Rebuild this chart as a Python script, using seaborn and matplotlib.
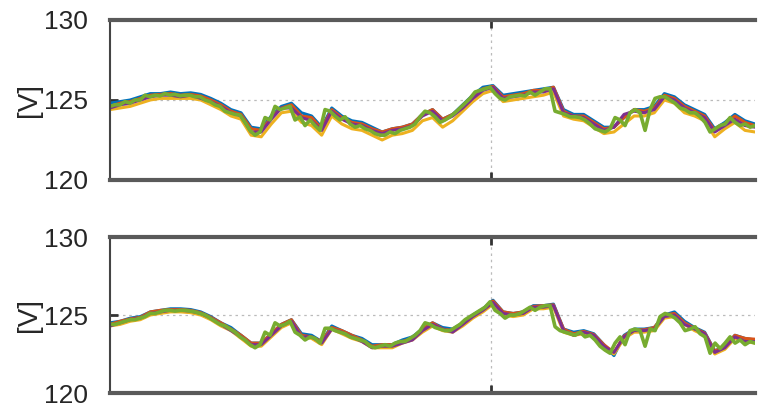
import numpy as np
import pandas as pd
import matplotlib
matplotlib.use('Agg')
import matplotlib.pyplot as plt
import seaborn as sns

# values, [V]
top_green = [124.6, 124.7, 124.7, 124.9, 124.8, 125.0, 125.0, 125.3, 125.2, 125.3,
             125.25, 125.4, 125.3, 125.35, 125.25, 125.3, 125.3, 125.2, 125.2, 125.0,
             124.9, 124.7, 124.6, 124.3, 124.2, 124.1, 124.05, 123.6, 123.1, 122.8,
             123.0, 123.9, 123.75, 124.6, 124.4, 124.5, 124.6, 123.75, 123.95, 123.4,
             123.75, 123.4, 123.1, 124.4, 124.3, 124.0, 123.75, 123.95, 123.5, 123.3,
             123.4, 123.2, 123.1, 122.9, 122.8, 122.8, 123.0, 122.9, 123.1, 123.2,
             123.3, 123.5, 123.95, 124.3, 124.2, 123.95, 123.6, 123.75, 123.95, 124.2,
             124.5, 124.8, 125.1, 125.5, 125.6, 125.7, 125.8, 125.4, 125.1, 125.0,
             125.2, 125.25, 125.3, 125.25, 125.5, 125.3, 125.5, 125.7, 125.7, 124.3,
             124.2, 124.1, 123.95, 123.95, 123.9, 123.75, 123.5, 123.2, 123.1, 123.0,
             123.2, 123.9, 123.75, 123.4, 124.2, 124.4, 124.2, 123.1, 124.4, 125.1,
             125.2, 125.2, 125.0, 124.8, 124.5, 124.4, 124.2, 124.2, 123.95, 123.6,
             123.0, 123.2, 123.4, 123.5, 123.9, 123.6, 123.4, 123.5, 123.3, 123.4]
top_blue = [124.8, 124.9, 125.0, 125.2, 125.4, 125.4, 125.5, 125.4, 125.45, 125.35,
            125.1, 124.8, 124.4, 124.2, 123.3, 123.2, 124.0, 124.6, 124.8, 124.2,
            124.0, 123.3, 124.5, 124.0, 123.7, 123.6, 123.3, 123.0, 123.2, 123.3,
            123.5, 124.1, 124.4, 123.8, 124.1, 124.7, 125.3, 125.8, 125.9, 125.3,
            125.4, 125.5, 125.6, 125.7, 125.8, 124.4, 124.1, 124.1, 123.7, 123.3,
            123.3, 123.9, 124.4, 124.4, 124.6, 125.4, 125.2, 124.7, 124.4, 124.1,
            123.2, 123.6, 124.1, 123.7, 123.5]
top_red = [124.6, 124.8, 124.9, 125.1, 125.3, 125.35, 125.4, 125.3, 125.35, 125.25,
           125.0, 124.7, 124.3, 124.1, 123.2, 123.1, 123.9, 124.5, 124.7, 124.0,
           123.9, 123.2, 124.4, 123.9, 123.6, 123.5, 123.2, 123.0, 123.2, 123.3,
           123.5, 124.1, 124.4, 123.8, 124.1, 124.6, 125.2, 125.7, 125.85, 125.2,
           125.3, 125.4, 125.6, 125.6, 125.8, 124.3, 124.0, 124.0, 123.6, 123.2,
           123.3, 123.9, 124.4, 124.3, 124.5, 125.3, 125.1, 124.6, 124.3, 124.0,
           123.1, 123.5, 124.0, 123.6, 123.4]
top_yellow = [124.4, 124.5, 124.6, 124.8, 125.0, 125.1, 125.1, 125.1, 125.1, 125.0,
              124.7, 124.4, 124.0, 123.8, 122.8, 122.7, 123.5, 124.2, 124.3, 123.6,
              123.4, 122.8, 124.0, 123.5, 123.2, 123.1, 122.8, 122.5, 122.8, 122.9,
              123.1, 123.7, 123.9, 123.3, 123.7, 124.3, 124.9, 125.4, 125.6, 124.9,
              125.0, 125.1, 125.2, 125.3, 125.5, 124.0, 123.8, 123.7, 123.3, 122.9,
              123.0, 123.5, 124.0, 124.0, 124.2, 125.0, 124.8, 124.2, 124.0, 123.7,
              122.7, 123.2, 123.6, 123.1, 123.0]
top_purple = [124.5, 124.7, 124.8, 125.0, 125.2, 125.3, 125.3, 125.2, 125.3, 125.1,
              124.9, 124.6, 124.2, 124.0, 123.0, 123.0, 123.8, 124.5, 124.5, 123.9,
              123.7, 123.1, 124.3, 123.8, 123.5, 123.4, 123.1, 122.9, 123.1, 123.2,
              123.4, 124.0, 124.3, 123.7, 124.0, 124.5, 125.1, 125.6, 125.8, 125.1,
              125.2, 125.3, 125.5, 125.5, 125.7, 124.2, 124.0, 123.9, 123.5, 123.1,
              123.3, 124.1, 124.3, 124.2, 124.4, 125.2, 125.0, 124.5, 124.2, 123.9,
              123.0, 123.4, 123.8, 123.4, 123.3]

bot_green = [124.4, 124.4, 124.5, 124.6, 124.7, 124.7, 124.8, 124.9, 125.1, 125.1,
             125.2, 125.3, 125.3, 125.25, 125.3, 125.3, 125.25, 125.2, 125.1, 125.0,
             124.8, 124.6, 124.4, 124.3, 124.1, 123.9, 123.6, 123.4, 123.1, 122.9,
             123.1, 123.9, 123.7, 124.5, 124.3, 124.4, 124.6, 123.9, 123.7, 123.4,
             123.6, 123.5, 123.2, 124.15, 124.15, 124.0, 123.9, 123.8, 123.6, 123.5,
             123.4, 123.3, 123.0, 122.9, 123.0, 123.1, 123.0, 123.2, 123.3, 123.3,
             123.5, 123.7, 124.0, 124.5, 124.4, 124.2, 124.1, 124.0, 124.0, 124.2,
             124.4, 124.7, 124.9, 125.1, 125.3, 125.5, 125.85, 125.3, 125.1, 124.8,
             125.0, 125.0, 125.1, 125.3, 125.5, 125.3, 125.5, 125.6, 125.6, 124.25,
             124.0, 123.9, 123.8, 123.7, 123.9, 123.6, 123.7, 123.4, 123.0, 122.75,
             122.55, 123.2, 123.6, 123.1, 124.0, 124.1, 124.0, 123.0, 124.1, 124.0,
             124.9, 125.1, 125.0, 124.8, 124.5, 124.0, 124.1, 124.25, 123.8, 123.6,
             122.55, 123.2, 122.85, 123.2, 123.6, 123.2, 123.4, 123.1, 123.3, 123.2]
bot_blue = [124.5, 124.6, 124.8, 124.9, 125.2, 125.3, 125.4, 125.4, 125.35, 125.2,
            124.9, 124.5, 124.2, 123.7, 123.2, 123.2, 123.8, 124.4, 124.7, 123.8,
            123.7, 123.3, 124.3, 124.0, 123.7, 123.5, 123.1, 123.1, 123.1, 123.4,
            123.6, 124.1, 124.5, 124.2, 124.1, 124.5, 125.0, 125.4, 125.95, 125.2,
            125.1, 125.2, 125.6, 125.6, 125.7, 124.1, 123.9, 124.0, 123.8, 123.1,
            122.4, 123.7, 124.1, 124.1, 124.2, 125.0, 125.2, 124.6, 124.2, 123.9,
            122.7, 123.0, 123.7, 123.5, 123.4]
bot_red = [124.4, 124.6, 124.75, 124.85, 125.2, 125.3, 125.35, 125.35, 125.3, 125.15,
           124.85, 124.5, 124.1, 123.7, 123.2, 123.2, 123.8, 124.4, 124.7, 123.7,
           123.6, 123.3, 124.2, 124.0, 123.7, 123.4, 123.0, 123.1, 123.1, 123.3,
           123.5, 124.1, 124.5, 124.1, 124.0, 124.5, 124.95, 125.35, 125.9, 125.2,
           125.1, 125.2, 125.55, 125.6, 125.65, 124.1, 123.8, 123.95, 123.75, 123.1,
           122.6, 123.65, 124.05, 124.05, 124.2, 125.0, 125.1, 124.5, 124.15, 123.85,
           122.7, 122.95, 123.7, 123.5, 123.45]
bot_yellow = [124.3, 124.4, 124.6, 124.7, 125.0, 125.1, 125.2, 125.2, 125.15, 125.0,
              124.7, 124.3, 124.0, 123.5, 123.0, 123.0, 123.6, 124.2, 124.5, 123.6,
              123.5, 123.1, 124.1, 123.8, 123.5, 123.3, 122.9, 122.9, 122.9, 123.2,
              123.4, 123.9, 124.3, 124.0, 123.9, 124.3, 124.8, 125.2, 125.7, 125.0,
              124.9, 125.0, 125.4, 125.4, 125.5, 123.9, 123.7, 123.8, 123.6, 122.9,
              122.5, 123.5, 123.9, 123.9, 124.0, 124.8, 124.9, 124.4, 124.0, 123.7,
              122.5, 122.8, 123.5, 123.3, 123.2]
bot_purple = [124.3, 124.5, 124.7, 124.8, 125.1, 125.2, 125.3, 125.3, 125.25, 125.1,
              124.8, 124.4, 124.0, 123.6, 123.1, 123.1, 123.7, 124.3, 124.6, 123.6,
              123.6, 123.2, 124.1, 123.9, 123.6, 123.3, 122.9, 123.0, 123.0, 123.2,
              123.4, 124.0, 124.4, 124.1, 123.9, 124.4, 124.9, 125.3, 125.8, 125.1,
              125.0, 125.1, 125.5, 125.5, 125.6, 124.0, 123.7, 123.9, 123.7, 123.0,
              122.6, 123.6, 124.0, 124.0, 124.1, 124.9, 125.0, 124.4, 124.1, 123.8,
              122.6, 122.9, 123.6, 123.3, 123.3]

# matlab default colour order
colors = {'blue': '#0072BD', 'red': '#D95319', 'yellow': '#EDB120',
          'purple': '#7E2F8E', 'green': '#77AC30'}
marker_t = 0.5907  # where the dotted vertical line sits

panels = [
    [('blue', top_blue), ('red', top_red), ('yellow', top_yellow),
     ('purple', top_purple), ('green', top_green)],
    [('blue', bot_blue), ('red', bot_red), ('yellow', bot_yellow),
     ('purple', bot_purple), ('green', bot_green)],
]

sns.set_style('white')
plt.rcParams['font.family'] = ['Liberation Sans', 'DejaVu Sans']

fig = plt.figure(figsize=(7.62, 4.13), dpi=100)
boxes = [[0.1444, 0.5642, 0.8465, 0.3874], [0.1444, 0.0484, 0.8465, 0.3777]]

for box, series in zip(boxes, panels):
    ax = fig.add_axes(box)
    for name, vals in series:
        df = pd.DataFrame({'t': np.linspace(0, 1, len(vals)), 'v': vals})
        lw = 2.6 if name == 'green' else 2.2
        sns.lineplot(data=df, x='t', y='v', color=colors[name], lw=lw, ax=ax)
    ax.set_xlim(0, 1)
    ax.set_ylim(120, 130)
    ax.set_yticks([120, 125, 130])
    ax.set_xticks([marker_t])
    ax.set_xticklabels([])
    ax.set_xlabel('')
    ax.set_ylabel('[V]', fontsize=20)
    ax.yaxis.set_label_coords(-0.106, 0.5)
    ax.grid(True, linestyle=(0, (2, 3)), color='#bbbbbb', lw=0.9)
    ax.set_axisbelow(True)
    ax.tick_params(axis='y', direction='in', length=6, width=2, color='#333333',
                   labelsize=19, pad=16, left=True)
    ax.tick_params(axis='x', direction='in', length=6, width=2, color='#333333',
                   top=True, bottom=True)
    ax.spines['right'].set_visible(False)
    ax.spines['left'].set_color('#444444')
    ax.spines['left'].set_linewidth(1.5)
    for s in ['top', 'bottom']:
        ax.spines[s].set_color('#5a5a5a')
        ax.spines[s].set_linewidth(3)

fig.savefig('out.png', dpi=100)
